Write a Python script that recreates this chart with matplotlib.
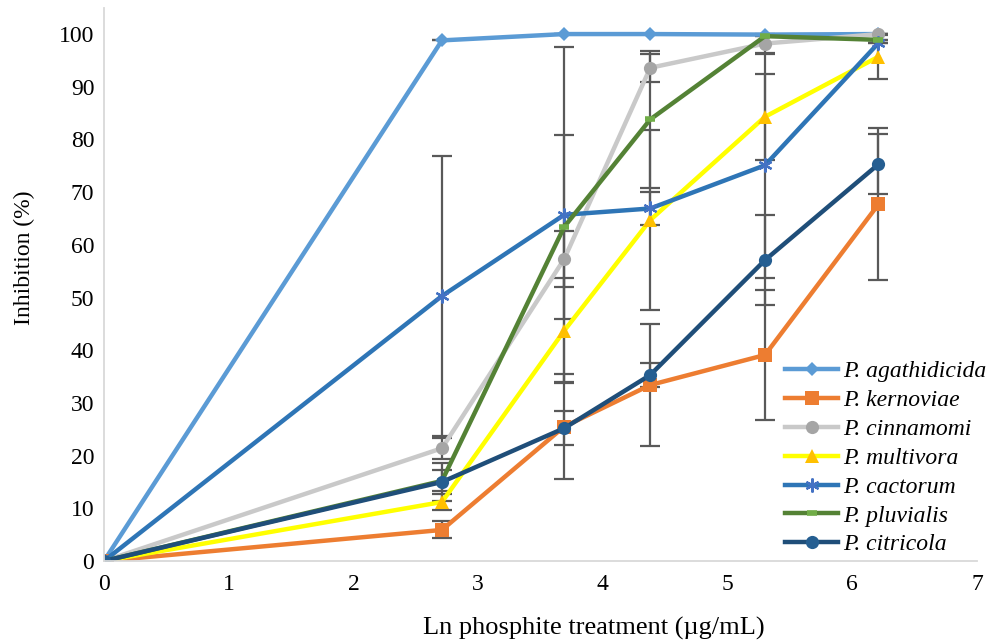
import numpy as np
import matplotlib.pyplot as plt

# ln of phosphite concentration (0 = control)
x = [0, 2.71, 3.69, 4.38, 5.30, 6.21]

species = ['P. agathidicida', 'P. kernoviae', 'P. cinnamomi', 'P. multivora',
           'P. cactorum', 'P. pluvialis', 'P. citricola']

agathidicida = [0, 98.8, 100.0, 100.0, 99.9, 100.0]
kernoviae = [0, 5.9, 25.5, 33.4, 39.1, 67.7]
cinnamomi = [0, 21.4, 57.3, 93.6, 98.2, 100.0]
multivora = [0, 11.2, 43.7, 64.7, 84.3, 95.7]
cactorum = [0, 50.3, 65.7, 66.9, 75.1, 98.3]
pluvialis = [0, 15.2, 63.4, 83.8, 99.6, 98.9]
citricola = [0, 15.0, 25.2, 35.3, 57.1, 75.3]

err_agathidicida = [0, 0, 0, 0, 0, 0]
err_kernoviae = [0, 1.6, 10.0, 11.6, 12.3, 14.4]
err_cinnamomi = [0, 2.0, 5.3, 2.7, 1.9, 0]
err_multivora = [0, 1.5, 10.0, 17.1, 8.2, 4.2]
err_cactorum = [0, 26.5, 31.8, 3.2, 21.4, 0]
err_pluvialis = [0, 2.0, 17.4, 13.0, 0, 0]
err_citricola = [0, 3.6, 3.2, 2.2, 8.6, 5.7]

values = [agathidicida, kernoviae, cinnamomi, multivora, cactorum, pluvialis, citricola]
errors = [err_agathidicida, err_kernoviae, err_cinnamomi, err_multivora,
          err_cactorum, err_pluvialis, err_citricola]

line_colors = ['#5B9BD5', '#ED7D31', '#C9C9C9', '#FFFF00', '#2E75B6', '#548235', '#1F4E79']
marker_colors = ['#5B9BD5', '#ED7D31', '#A5A5A5', '#FFC000', '#4472C4', '#70AD47', '#255E91']
markers = ['D', 's', 'o', '^', (6, 2, 0), '_', 'o']
msizes = [7, 9.5, 9.5, 10, 10, 7, 9.5]

plt.rcParams['font.family'] = ['Liberation Serif', 'DejaVu Serif']

fig = plt.figure(figsize=(9.95, 6.43), dpi=100)
ax = fig.add_axes([0.1045, 0.1275, 0.8774, 0.8605])

for i, name in enumerate(species):
    ax.errorbar(x, values[i], yerr=errors[i], fmt='none', ecolor='#595959',
                elinewidth=1.6, capsize=7, capthick=1.6, zorder=1.5)

for i, name in enumerate(species):
    mew = 1.6 if i == 4 else (4 if i == 5 else 0)
    ax.plot(x, values[i], color=line_colors[i], linewidth=3.2, marker=markers[i],
            markersize=msizes[i], markerfacecolor=marker_colors[i],
            markeredgecolor=marker_colors[i], markeredgewidth=mew,
            label=name, zorder=2 + i * 0.01)

ax.set_xlim(0, 7)
ax.set_ylim(0, 105)
ax.set_xticks(range(0, 8))
ax.set_yticks(range(0, 101, 10))
ax.tick_params(length=0, labelsize=17)
ax.tick_params(axis='y', pad=7)
ax.tick_params(axis='x', pad=9)

for side in ['top', 'right']:
    ax.spines[side].set_visible(False)
for side in ['left', 'bottom']:
    ax.spines[side].set_color('#D9D9D9')
    ax.spines[side].set_linewidth(1.3)

ax.set_xlabel('Ln phosphite treatment (µg/mL)', fontsize=19)
ax.set_ylabel('Inhibition (%)', fontsize=17)
ax.xaxis.set_label_coords(0.561, -0.101)
ax.yaxis.set_label_coords(-0.079, 0.548)

leg = fig.legend(loc='lower left', bbox_to_anchor=(785 / 995, 87.5 / 643),
                 frameon=False, prop={'style': 'italic', 'size': 17},
                 handlelength=2.25, handletextpad=0.21, labelspacing=0.31,
                 borderpad=0, borderaxespad=0)

fig.savefig('out.png', dpi=100)
